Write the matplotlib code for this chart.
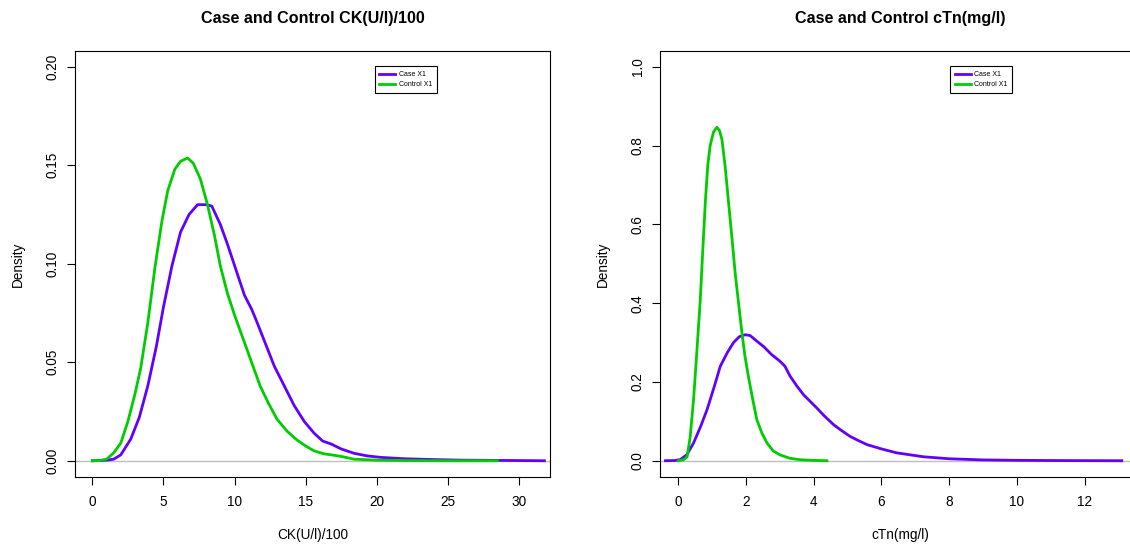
import matplotlib
matplotlib.use('Agg')
import matplotlib.pyplot as plt

plt.rcParams['font.family'] = ['Liberation Sans', 'DejaVu Sans']

# CK(U/l)/100 densities
ck_case_x = [0.0, 1.0, 1.5, 2.0, 2.7, 3.3, 3.9, 4.5, 5.0, 5.6, 6.2, 6.8, 7.4, 8.0, 8.4,
             9.0, 9.5, 10.1, 10.7, 11.2, 11.6, 12.2, 12.8, 13.5, 14.2, 14.9, 15.6, 16.2,
             16.8, 17.5, 18.4, 19.3, 20.3, 22.0, 24.0, 26.0, 28.0, 30.0, 31.8]
ck_case_d = [0.0, 0.0003, 0.0008, 0.003, 0.011, 0.022, 0.038, 0.058, 0.078, 0.099, 0.116,
             0.125, 0.130, 0.130, 0.1293, 0.120, 0.110, 0.097, 0.084, 0.077, 0.070, 0.059,
             0.048, 0.038, 0.028, 0.020, 0.014, 0.010, 0.0085, 0.006, 0.0038, 0.0025,
             0.0017, 0.0010, 0.0006, 0.0003, 0.0002, 0.0001, 0.0]

ck_ctrl_x = [0.0, 0.5, 1.0, 1.5, 2.0, 2.5, 3.0, 3.4, 3.9, 4.4, 4.9, 5.3, 5.8, 6.2, 6.7,
             7.1, 7.6, 8.1, 8.6, 9.0, 9.5, 10.0, 10.6, 11.2, 11.8, 12.4, 13.0, 13.7, 14.4,
             15.0, 15.6, 16.3, 17.0, 17.5, 18.4, 20.0, 22.0, 25.0, 28.5]
ck_ctrl_d = [0.0, 0.0001, 0.0008, 0.004, 0.009, 0.020, 0.034, 0.047, 0.070, 0.098, 0.122,
             0.137, 0.148, 0.152, 0.1537, 0.151, 0.143, 0.130, 0.114, 0.099, 0.085, 0.074,
             0.062, 0.050, 0.038, 0.029, 0.021, 0.015, 0.0105, 0.0075, 0.005, 0.0035,
             0.0028, 0.0022, 0.0008, 0.0003, 0.0001, 0.0, 0.0]

# cTn(mg/l) densities
ctn_case_x = [-0.38, -0.1, 0.06, 0.25, 0.45, 0.65, 0.85, 1.05, 1.24, 1.45, 1.63, 1.8, 1.98,
              2.12, 2.3, 2.52, 2.75, 3.0, 3.15, 3.3, 3.5, 3.7, 4.09, 4.3, 4.58, 4.8, 5.07,
              5.3, 5.57, 6.0, 6.45, 7.24, 8.0, 9.0, 10.0, 11.0, 12.0, 13.1]
ctn_case_d = [0.0, 0.0005, 0.003, 0.015, 0.045, 0.085, 0.13, 0.185, 0.24, 0.275, 0.30,
              0.315, 0.32, 0.318, 0.305, 0.29, 0.27, 0.253, 0.24, 0.215, 0.19, 0.1675,
              0.134, 0.115, 0.092, 0.078, 0.062, 0.052, 0.041, 0.030, 0.020, 0.010, 0.005,
              0.002, 0.001, 0.0005, 0.0002, 0.0]

ctn_ctrl_x = [0.0, 0.15, 0.26, 0.35, 0.45, 0.55, 0.65, 0.72, 0.8, 0.87, 0.94, 1.04, 1.14,
              1.22, 1.29, 1.38, 1.48, 1.58, 1.68, 1.78, 1.88, 1.97, 2.07, 2.2, 2.32, 2.47,
              2.62, 2.8, 3.0, 3.3, 3.6, 4.0, 4.39]
ctn_ctrl_d = [0.0, 0.002, 0.01, 0.06, 0.155, 0.28, 0.41, 0.53, 0.66, 0.75, 0.80, 0.835,
              0.847, 0.838, 0.815, 0.75, 0.66, 0.57, 0.476, 0.40, 0.324, 0.265, 0.214,
              0.155, 0.104, 0.07, 0.045, 0.025, 0.015, 0.006, 0.0025, 0.0008, 0.0]

purple = '#6000ff'
green = '#00cc00'

fig = plt.figure(figsize=(11.3, 5.48), dpi=100)
ax1 = fig.add_axes([0.0664, 0.1301, 0.4204, 0.7768])
# right panel runs past the figure edge, as in the cropped original
ax2 = fig.add_axes([0.5841, 0.1301, 0.4260, 0.7768])


def panel(ax, cx, cd, kx, kd, title, xlabel, xlim, ylim, xticks, yticks, yfmt, leg_x):
    ax.axhline(0, color='#bebebe', lw=1, zorder=1)
    ax.plot(cx, cd, color=purple, lw=2.0, label='Case X1', zorder=3)
    ax.plot(kx, kd, color=green, lw=2.0, label='Control X1', zorder=3)
    ax.set_xlim(xlim)
    ax.set_ylim(ylim)
    ax.set_xticks(xticks)
    ax.set_yticks(yticks)
    ax.set_yticklabels([yfmt % v for v in yticks], rotation=90, va='center')
    ax.tick_params(length=6, width=0.8, labelsize=9.8, pad=7, direction='out')
    ax.tick_params(axis='y', pad=5)
    for s in ax.spines.values():
        s.set_linewidth(0.8)
    ax.set_title(title, fontsize=11.6, fontweight='bold', pad=20)
    ax.set_xlabel(xlabel, fontsize=9.8, labelpad=14)
    ax.set_ylabel('Density', fontsize=9.8, labelpad=15)
    leg = ax.legend(loc='upper left', bbox_to_anchor=(leg_x, 0.972), fontsize=5,
                    handlelength=2.3, handletextpad=0.5, borderpad=0.7,
                    labelspacing=0.4, fancybox=False, framealpha=1, edgecolor='black')
    leg.get_frame().set_linewidth(0.8)


panel(ax1, ck_case_x, ck_case_d, ck_ctrl_x, ck_ctrl_d,
      'Case and Control CK(U/l)/100', 'CK(U/l)/100',
      (-1.22, 32.2), (-0.0081, 0.208), [0, 5, 10, 15, 20, 25, 30],
      [0.0, 0.05, 0.10, 0.15, 0.20], '%.2f', 0.6232)
panel(ax2, ctn_case_x, ctn_case_d, ctn_ctrl_x, ctn_ctrl_d,
      'Case and Control cTn(mg/l)', 'cTn(mg/l)',
      (-0.54, 13.68), (-0.0406, 1.0406), [0, 2, 4, 6, 8, 10, 12],
      [0.0, 0.2, 0.4, 0.6, 0.8, 1.0], '%.1f', 0.595)
ax2.spines['right'].set_visible(False)

fig.savefig('out.png', dpi=100)
